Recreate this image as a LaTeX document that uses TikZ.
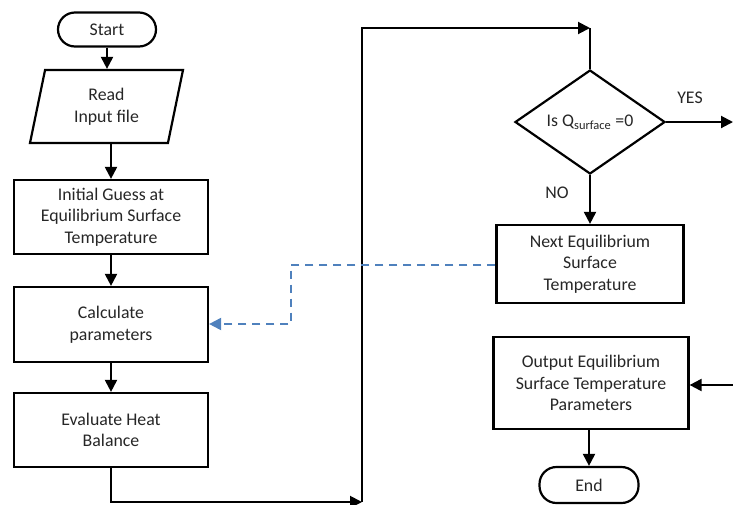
\documentclass[tikz,border=0pt]{standalone}
\usepackage{fontspec}
\setmainfont{Carlito}
\usetikzlibrary{shapes.geometric,arrows.meta}
\definecolor{dashblue}{RGB}{79,129,189}
\tikzset{
  base/.style={draw=black, line width=2.2pt, align=center, text=black!85, font=\fontsize{17.8}{21.5}\selectfont, inner sep=0pt},
  procbox/.style={base, rectangle},
  termbox/.style={base, rectangle, rounded corners=17pt},
  iobox/.style={base, trapezium, trapezium left angle=67.7, trapezium right angle=112.3, trapezium stretches body},
  decbox/.style={base, diamond},
  conn/.style={line width=2pt, draw=black, -{Triangle[length=12pt,width=12pt]}},
  plain/.style={line width=2pt, draw=black},
  dashconn/.style={line width=2pt, draw=dashblue, dash pattern=on 8pt off 6pt, -{Triangle[length=12pt,width=12pt]}},
  lbl/.style={text=black!85, font=\fontsize{17.8}{21.5}\selectfont, inner sep=0pt}
}
\begin{document}
\begin{tikzpicture}[x=1pt,y=-1pt]
\useasboundingbox (0,0) rectangle (733,504);
\node[termbox, minimum width=98pt, minimum height=34pt] (start) at (107,29.5) {Start};
\node[iobox, minimum width=153pt, minimum height=73pt] (read) at (106.5,106.5) {Read\\Input file};
\node[procbox, minimum width=194pt, minimum height=74pt] (guess) at (111,217) {Initial Guess at\\Equilibrium Surface\\Temperature};
\node[procbox, minimum width=194pt, minimum height=75pt] (calc) at (111,324.5) {Calculate\\parameters};
\node[procbox, minimum width=194pt, minimum height=74pt] (eval) at (111,430) {Evaluate Heat\\Balance};
\node[decbox, minimum width=150pt, minimum height=104pt] (dec) at (590,122) {Is Q\textsubscript{surface} =0};
\node[procbox, minimum width=187pt, minimum height=78pt] (next) at (590,264) {Next Equilibrium\\Surface\\Temperature};
\node[procbox, minimum width=195pt, minimum height=92pt] (out) at (591,383) {Output Equilibrium\\Surface Temperature\\Parameters};
\node[termbox, minimum width=99pt, minimum height=36pt] (end) at (589,485) {End};
\node[lbl] (yes) at (690,98) {YES};
\node[lbl] (no) at (557,193) {NO};
\coordinate (c1) at (362,502);
\coordinate (c2) at (362,28);
\coordinate (c3) at (590,28);
\coordinate (yesend) at (733,122);
\coordinate (outin) at (733,385);
\coordinate (d1) at (291,265);
\coordinate (d2) at (291,324);
\draw[conn] (start) -- (start |- read.north);
\draw[conn] (read.south -| guess) -- (guess);
\draw[conn] (guess) -- (calc);
\draw[conn] (calc) -- (eval);
\draw[conn] (eval.south) |- (c1);
\draw[conn] (c1) -- (c2) -- (c3);
\draw[plain] (c3) -- (dec.north);
\draw[conn] (dec.east) -- (yesend);
\draw[conn] (dec.south) -- (next.north);
\draw[dashconn] (next.west |- d1) -- (d1) -- (d2) -- (calc.east |- d2);
\draw[conn] (outin) -- (out.east |- outin);
\draw[conn] (out.south -| end) -- (end.north);
\end{tikzpicture}
\end{document}
